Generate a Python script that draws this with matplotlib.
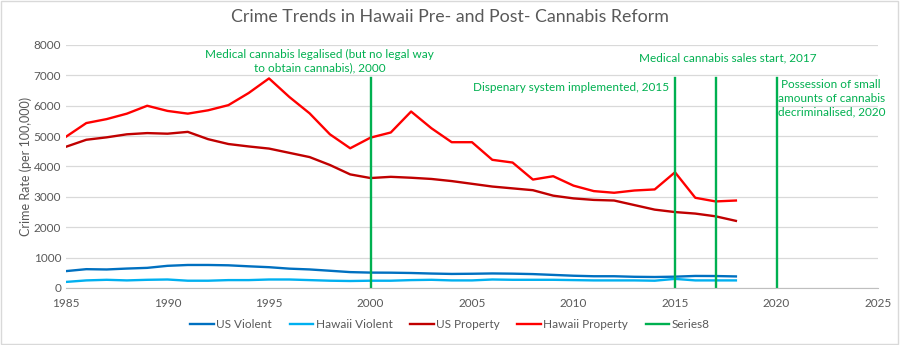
import matplotlib.pyplot as plt
import numpy as np

years = np.arange(1985, 2019)

us_violent = [556, 620, 610, 640, 663, 730, 758, 758, 747, 714, 685, 637, 611, 568, 523,
              507, 504, 494, 476, 463, 469, 479, 472, 458, 431, 404, 387, 387, 369, 362,
              373, 397, 394, 381]
hawaii_violent = [200, 250, 270, 250, 270, 280, 240, 240, 260, 260, 280, 280, 260, 240, 230,
                  240, 240, 260, 270, 250, 250, 280, 270, 270, 270, 260, 250, 250, 250, 240,
                  300, 250, 250, 250]
us_property = [4650, 4880, 4960, 5060, 5100, 5080, 5140, 4900, 4740, 4660, 4590, 4450, 4310,
               4050, 3740, 3620, 3660, 3630, 3590, 3520, 3430, 3340, 3280, 3220, 3040, 2950,
               2900, 2880, 2730, 2580, 2500, 2450, 2360, 2210]
hawaii_property = [4980, 5430, 5560, 5740, 6000, 5830, 5740, 5850, 6020, 6420, 6900, 6290,
                   5750, 5060, 4600, 4950, 5120, 5810, 5260, 4800, 4800, 4220, 4130, 3570,
                   3680, 3370, 3190, 3135, 3210, 3245, 3810, 2970, 2850, 2880]

event_years = [2000, 2015, 2017, 2020]
event_top = 6900

notes = [
    (1997.5, 7470, "Medical cannabis legalised (but no legal way\nto obtain cannabis), 2000"),
    (2009.9, 6610, "Dispenary system implemented, 2015"),
    (2017.6, 7560, "Medical cannabis sales start, 2017"),
    (2022.7, 6250, "Possession of small\namounts of cannabis\ndecriminalised, 2020"),
]

plt.rcParams['font.family'] = ['Lato', 'DejaVu Sans']
grey = '#595959'
green = '#00B050'

fig = plt.figure(figsize=(9, 3.45), dpi=100)
ax = fig.add_axes([66/900, 1-288/345, (878-66)/900, (288-45)/345])

ax.plot(years, us_violent, color='#0070C0', lw=1.7, label='US Violent')
ax.plot(years, hawaii_violent, color='#00B0F0', lw=1.7, label='Hawaii Violent')
ax.plot(years, us_property, color='#C00000', lw=1.7, label='US Property')
ax.plot(years, hawaii_property, color='#FF0000', lw=1.7, label='Hawaii Property')
for i, yr in enumerate(event_years):
    ax.plot([yr, yr], [0, event_top], color=green, lw=1.7,
            label='Series8' if i == 0 else None)

for x, y, t in notes:
    ax.text(x, y, t, color=green, fontsize=8.5, ha='center', va='center', linespacing=1.3)

ax.set_xlim(1985, 2025)
ax.set_ylim(0, 8000)
ax.set_xticks(np.arange(1985, 2026, 5))
ax.set_yticks(np.arange(0, 8001, 1000))
ax.grid(axis='y', color='#D9D9D9', lw=0.9)
ax.set_axisbelow(True)
for s in ['top', 'right', 'left']:
    ax.spines[s].set_visible(False)
ax.spines['bottom'].set_color('#BFBFBF')
ax.tick_params(axis='both', length=0, colors=grey, labelsize=8.5)
ax.tick_params(axis='x', pad=7)
ax.set_ylabel('Crime Rate (per 100,000)', color=grey, fontsize=9, labelpad=1)

fig.suptitle('Crime Trends in Hawaii Pre- and Post- Cannabis Reform', color=grey,
             fontsize=12.8, y=0.975)
fig.legend(loc='center', bbox_to_anchor=(0.5, 1 - 325/345), ncol=5,
           frameon=False, fontsize=8.5, labelcolor=grey, handlelength=2.0,
           columnspacing=1.5, handletextpad=0.2)

fig.patches.append(plt.Rectangle((0.001, 0.002), 0.997, 0.995, transform=fig.transFigure,
                                 fill=False, edgecolor='#D9D9D9', lw=1))
fig.savefig('out.png', dpi=100)
